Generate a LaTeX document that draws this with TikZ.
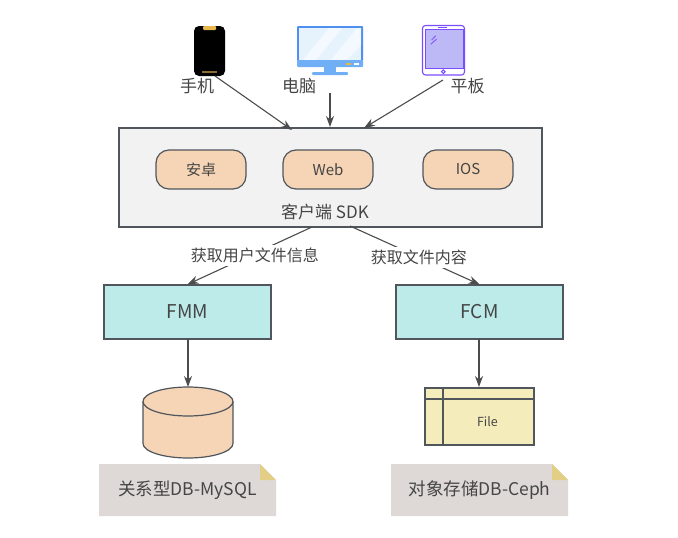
\documentclass[tikz,border=0pt]{standalone}
\usepackage{fontspec}
\setmainfont{Noto Sans CJK SC}
\usetikzlibrary{arrows.meta}
\definecolor{linegray}{HTML}{50565C}
\definecolor{textgray}{HTML}{454545}
\definecolor{peach}{HTML}{F5D5B5}
\definecolor{paleteal}{HTML}{BDEBEA}
\definecolor{cream}{HTML}{F5ECBC}
\definecolor{notegray}{HTML}{DED9D7}
\definecolor{foldgold}{HTML}{E2CF85}
\definecolor{screenblue}{HTML}{E6F3FD}
\definecolor{frameblue}{HTML}{4F8FF0}
\definecolor{barblue}{HTML}{70AEF6}
\definecolor{padviolet}{HTML}{7B4DFF}
\definecolor{padscreen}{HTML}{BDB9F7}
\definecolor{notchgold}{HTML}{E8B84B}
\definecolor{slotbrown}{HTML}{8A6D2C}
\tikzset{
  pill/.style={draw=linegray, line width=1.2pt, fill=peach, rounded corners=13pt,
    minimum width=90pt, minimum height=39pt, inner sep=0pt, text=textgray,
    font=\fontsize{15}{18}\selectfont},
  svcbox/.style={draw=linegray, line width=1.2pt, fill=paleteal, minimum width=167pt,
    minimum height=54pt, inner sep=0pt, text=textgray, font=\fontsize{19}{23}\selectfont},
  lbl/.style={inner sep=0pt, text=textgray, font=\fontsize{17}{20}\selectfont},
  notelbl/.style={inner sep=0pt, text=textgray, font=\fontsize{17.5}{21}\selectfont},
  conn/.style={-{Stealth[length=11pt,width=8pt]}, line width=1.1pt, draw=black!70},
  edgelbl/.style={fill=white, inner xsep=0pt, inner ysep=3pt, text=textgray,
    font=\fontsize{16}{19}\selectfont},
}
\begin{document}
\begin{tikzpicture}[x=1pt,y=-1pt]
  \useasboundingbox (0,0) rectangle (678,538);
  % phone
  \fill[rounded corners=5pt] (194,26) rectangle (225,76);
  \fill[rounded corners=1pt, notchgold] (203,26) rectangle (216,30);
  \fill[slotbrown] (202,71) rectangle (217,73);
  % monitor
  \fill[frameblue, rounded corners=1pt] (297,26) rectangle (363,61);
  \fill[screenblue] (299,28) rectangle (361,60);
  \fill[white, opacity=.55] (303,60) -- (329,28) -- (342,28) -- (316,60) -- cycle;
  \fill[white, opacity=.55] (331,60) -- (357,28) -- (361,28) -- (361,45) -- (347,60) -- cycle;
  \fill[barblue, rounded corners=1pt] (297,60) rectangle (363,67);
  \fill[notchgold] (346,63) rectangle (351,65);
  \fill[white] (354,63) rectangle (359,65);
  \fill[barblue] (324,67) rectangle (336,72);
  \fill[barblue, rounded corners=1pt] (312,72) rectangle (348,75);
  % tablet
  \draw[padviolet, line width=1.1pt, fill=white, rounded corners=3pt] (422.5,25.5) rectangle (464.5,75);
  \draw[padviolet, line width=1pt, fill=padscreen] (425,29.5) rectangle (463,68);
  \draw[padviolet, line width=1pt] (438,27) -- (447,27);
  \draw[padviolet, line width=1pt] (443.3,71.7) circle (1.8);
  \draw[padviolet, line width=.8pt] (435.7,35.7) -- (431.7,40);
  \draw[padviolet, line width=.8pt] (436.7,39) -- (430.7,44.3);
  % device labels
  \node[lbl] (phonelbl) at (197,86) {手机};
  \node[lbl] (pclbl) at (299,86) {电脑};
  \node[lbl] (padlbl) at (467.5,86) {平板};
  % client sdk
  \node[draw=linegray, line width=1.2pt, fill=black!5, minimum width=423pt, minimum height=99pt,
    inner sep=0pt] (sdk) at (330.5,177.5) {};
  \node[pill] (android) at (201,169.5) {安卓};
  \node[pill] (web) at (328,169.5) {Web};
  \node[pill] (ios) at (468,169.5) {IOS};
  \node[lbl] (sdklbl) at (325,212) {客户端 SDK};
  % services
  \node[svcbox] (fmm) at (187.5,312) {FMM};
  \node[svcbox] (fcm) at (479.5,312) {FCM};
  % stores
  \coordinate (mysqltop) at (188,387);
  \draw[linegray, line width=1.2pt, fill=peach] (143,401.5) -- (143,443.5)
    arc[start angle=180, end angle=0, x radius=45, y radius=14.5] -- (233,401.5)
    arc[start angle=0, end angle=-180, x radius=45, y radius=14.5] -- cycle;
  \draw[linegray, line width=1.2pt] (143,401.5) arc[start angle=180, end angle=0, x radius=45, y radius=14.5];
  \node[draw=linegray, line width=1.2pt, fill=cream, minimum width=109pt, minimum height=57pt,
    inner sep=0pt] (ceph) at (479.5,416.5) {};
  \draw[linegray, line width=1.2pt] (425,399) -- (534,399);
  \draw[linegray, line width=1.2pt] (443,388) -- (443,445);
  \node[inner sep=0pt, text=textgray, font=\fontsize{12.5}{15}\selectfont] (filelbl) at (487.5,422) {File};
  % notes
  \foreach \nx/\name/\txt in {99/mysqlnote/关系型DB-MySQL, 391/cephnote/对象存储DB-Ceph} {
    \fill[notegray] (\nx,464) -- ++(161,0) -- ++(16,16) -- ++(0,36) -- ++(-177,0) -- cycle;
    \fill[foldgold] (\nx+161,464) -- ++(16,16) -- ++(-16,0) -- cycle;
    \node[notelbl] (\name) at (\nx+88.5,490) {\txt};
  }
  % connector ends
  \coordinate (phoneout) at (215,76);
  \coordinate (sdkin1) at (292,130);
  \coordinate (pcout) at (330,93);
  \coordinate (sdkin2) at (330,127);
  \coordinate (padout) at (443,80);
  \coordinate (sdkin3) at (364,128);
  \coordinate (sdkout1) at (312,227);
  \coordinate (sdkout2) at (350,226);
  \coordinate (fmmout) at (188,339);
  \coordinate (fcmout) at (479,339);
  \coordinate (cephtop) at (479,387);
  \draw[conn] (phoneout) -- (sdkin1);
  \draw[conn] (pcout) -- (sdkin2);
  \draw[conn] (padout) -- (sdkin3);
  \draw[conn] (sdkout1) -- node[edgelbl, xshift=5pt] (userlbl) {获取用户文件信息} (fmm.north);
  \draw[conn] (sdkout2) -- node[edgelbl, pos=.54, xshift=-1pt] (contentlbl) {获取文件内容} (fcm.north);
  \draw[conn] (fmmout) -- (mysqltop);
  \draw[conn] (fcmout) -- (cephtop);
\end{tikzpicture}
\end{document}
